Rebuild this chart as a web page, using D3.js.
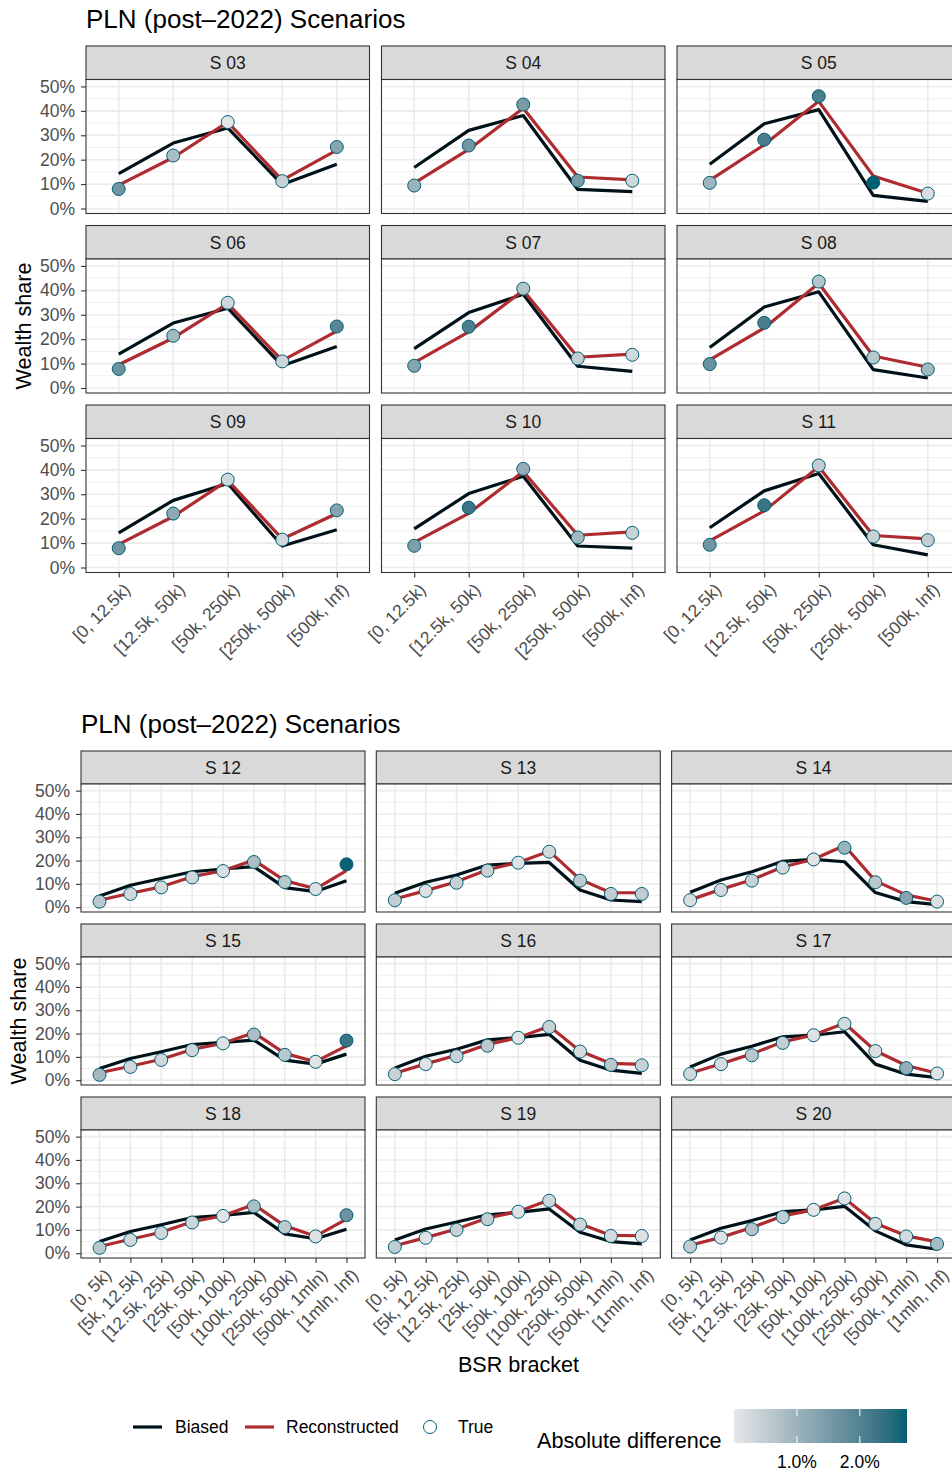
<!DOCTYPE html>
<html>
<head>
<meta charset="utf-8">
<script src="https://cdn.jsdelivr.net/npm/d3@7"></script>
<style>
    body { margin: 0; background: #fff; }
    svg { display: block; font-family: "Liberation Sans", Arial, sans-serif; }
</style>
</head>
<body>
<svg id="chart" width="952" height="1473"></svg>
<script>
// brackets and scenarios
var bracketsTop = ["[0, 12.5k)", "[12.5k, 50k)", "[50k, 250k)", "[250k, 500k)", "[500k, Inf)"];
var bracketsBottom = ["[0, 5k)", "[5k, 12.5k)", "[12.5k, 25k)", "[25k, 50k)", "[50k, 100k)",
    "[100k, 250k)", "[250k, 500k)", "[500k, 1mln)", "[1mln, Inf)"];
var scenariosTop = ["S 03", "S 04", "S 05", "S 06", "S 07", "S 08", "S 09", "S 10", "S 11"];
var scenariosBottom = ["S 12", "S 13", "S 14", "S 15", "S 16", "S 17", "S 18", "S 19", "S 20"];

// wealth shares, in percent
var biasedTop = [
    [14.3, 26.8, 33.0, 9.8, 18.1],
    [16.8, 32.0, 38.1, 7.8, 6.9],
    [18.1, 34.7, 40.5, 5.4, 2.9],
    [13.9, 26.6, 32.7, 9.1, 17.0],
    [16.1, 30.9, 38.4, 8.9, 6.8],
    [16.6, 33.2, 39.4, 7.5, 4.1],
    [14.2, 27.5, 34.4, 8.8, 15.5],
    [15.8, 30.3, 37.4, 8.8, 7.9],
    [16.3, 31.4, 38.5, 9.3, 5.2]
];
var reconTop = [
    [9.6, 20.9, 35.35, 11.6, 23.9],
    [10.4, 24.2, 41.1, 12.9, 11.7],
    [11.5, 26.1, 43.9, 13.35, 6.25],
    [9.5, 20.5, 34.6, 11.25, 23.3],
    [10.4, 23.0, 40.0, 12.6, 13.9],
    [11.5, 24.6, 42.9, 13.1, 8.5],
    [9.5, 20.9, 35.7, 11.7, 22.1],
    [10.3, 22.2, 39.3, 13.2, 14.6],
    [10.9, 23.2, 41.3, 13.1, 11.7]
];
var trueTop = [
    [8.0, 21.7, 35.4, 11.2, 25.2],
    [9.4, 25.8, 42.6, 11.4, 11.4],
    [10.5, 28.2, 46.0, 10.6, 6.1],
    [7.8, 21.4, 34.9, 10.9, 25.2],
    [9.1, 25.1, 40.7, 12.1, 13.6],
    [9.8, 26.7, 43.6, 12.5, 7.6],
    [7.9, 22.1, 36.0, 11.4, 23.4],
    [8.9, 24.5, 40.4, 12.3, 14.2],
    [9.3, 25.5, 41.8, 12.7, 11.2]
];

var biasedBottom = [
    [4.8, 9.4, 12.3, 15.2, 16.4, 17.4, 8.4, 6.7, 11.4],
    [6.0, 10.7, 13.8, 18.1, 18.8, 19.2, 7.4, 3.1, 2.4],
    [6.4, 11.7, 15.2, 19.7, 20.5, 19.5, 6.3, 2.4, 1.1],
    [5.0, 9.3, 12.2, 15.3, 16.2, 17.2, 8.6, 6.9, 11.2],
    [5.2, 10.3, 13.3, 17.3, 18.3, 19.7, 8.6, 4.3, 2.9],
    [5.7, 11.2, 14.6, 18.6, 19.3, 20.8, 6.9, 2.6, 1.1],
    [5.0, 9.3, 12.2, 15.3, 16.2, 17.5, 8.3, 6.2, 10.3],
    [5.7, 10.4, 13.4, 16.5, 17.5, 19.0, 9.0, 5.0, 4.0],
    [5.7, 10.7, 14.0, 17.8, 18.6, 20.1, 9.6, 3.6, 1.7]
];
var reconBottom = [
    [3.0, 6.0, 8.75, 13.1, 15.65, 20.2, 11.4, 7.9, 15.7],
    [3.5, 7.1, 10.9, 16.1, 19.2, 24.05, 11.95, 6.2, 6.2],
    [3.15, 7.65, 11.8, 17.25, 20.55, 26.5, 11.3, 5.3, 2.55],
    [3.2, 6.0, 9.0, 13.2, 15.9, 20.4, 11.5, 7.95, 14.7],
    [3.0, 7.0, 10.7, 15.35, 18.25, 23.2, 12.5, 7.2, 6.8],
    [3.0, 7.1, 11.3, 16.45, 19.4, 24.45, 12.65, 6.3, 3.0],
    [2.9, 6.0, 9.0, 13.5, 16.05, 20.9, 11.75, 7.3, 14.6],
    [3.2, 6.7, 10.4, 15.1, 17.9, 22.8, 12.65, 7.65, 7.5],
    [3.4, 6.8, 11.0, 16.0, 18.6, 23.6, 12.85, 7.45, 4.85]
];
var trueBottom = [
    [2.4, 5.7, 8.5, 12.8, 15.5, 19.4, 10.8, 7.8, 18.4],
    [3.0, 7.0, 10.5, 15.7, 19.1, 23.8, 11.4, 5.7, 5.7],
    [3.0, 7.4, 11.4, 17.0, 20.5, 25.5, 10.7, 4.0, 2.4],
    [2.3, 5.7, 8.7, 12.9, 15.8, 19.6, 10.9, 7.9, 17.0],
    [2.6, 6.9, 10.3, 14.8, 18.2, 22.8, 12.3, 6.6, 6.4],
    [2.7, 6.9, 10.7, 16.0, 19.3, 24.2, 12.5, 5.2, 2.9],
    [2.3, 5.7, 8.7, 13.2, 16.0, 20.1, 11.2, 7.2, 16.3],
    [2.7, 6.6, 10.0, 14.6, 17.8, 22.5, 12.3, 7.4, 7.4],
    [2.9, 6.7, 10.3, 15.5, 18.6, 23.5, 12.6, 7.2, 4.0]
];

var yTicks = [0, 10, 20, 30, 40, 50];
var yMinor = [5, 15, 25, 35, 45];
var legendTicks = [1, 2];
var seriesNames = ["Biased", "Reconstructed", "True"];

var colBiased = "#001219", colRecon = "#AE2B2F", colTrue = "#005F73";
var axisCol = "#4D4D4D", borderCol = "#333333";

var svg = d3.select("#chart");

// absolute difference true vs reconstructed, shared color scale
var allDiffs = [];
trueTop.forEach(function(row, i){ row.forEach(function(v, j){ allDiffs.push(Math.abs(v - reconTop[i][j])); }); });
trueBottom.forEach(function(row, i){ row.forEach(function(v, j){ allDiffs.push(Math.abs(v - reconBottom[i][j])); }); });
var diffExtent = d3.extent(allDiffs);
var color = d3.scaleLinear().domain(diffExtent).range(["#E6E7E8", colTrue]).interpolate(d3.interpolateLab);

function drawFigure(cfg){
    var fig = svg.append("g");
    fig.append("text")
        .attr("x", cfg.left).attr("y", cfg.titleY)
        .style("font-size", "26px").style("fill", "#000")
        .text("PLN (post\u20132022) Scenarios");

    var y = d3.scaleLinear().domain([-0.0205, 0.5285]).range([cfg.plotH, 0]);
    var x = d3.scalePoint().domain(cfg.brackets).range([0, cfg.panelW]).padding(0.6);
    var line = d3.line()
        .x(function(d, i){ return x(cfg.brackets[i]); })
        .y(function(d){ return y(d / 100); });

    cfg.scenarios.forEach(function(name, k){
        var col = k % 3, row = Math.floor(k / 3);
        var px = cfg.left + col * cfg.colStep;
        var py = cfg.top + row * cfg.rowStep;
        var g = fig.append("g").attr("transform", "translate(" + px + "," + py + ")");

        // strip
        g.append("rect")
            .attr("x", 0).attr("y", 0).attr("width", cfg.panelW).attr("height", cfg.stripH)
            .style("fill", "#D9D9D9").style("stroke", borderCol).style("stroke-width", 1.1);
        g.append("text")
            .attr("x", cfg.panelW / 2).attr("y", cfg.stripH / 2).attr("dy", "0.36em")
            .attr("text-anchor", "middle")
            .style("font-size", "17.5px").style("fill", "#1A1A1A")
            .text(name);

        var p = g.append("g").attr("transform", "translate(0," + cfg.stripH + ")");
        p.append("rect")
            .attr("width", cfg.panelW).attr("height", cfg.plotH)
            .style("fill", "#fff");

        // grid
        p.selectAll(".minor").data(yMinor).enter().append("line")
            .attr("x1", 0).attr("x2", cfg.panelW)
            .attr("y1", function(d){ return y(d / 100); }).attr("y2", function(d){ return y(d / 100); })
            .style("stroke", "#EBEBEB").style("stroke-width", 0.8);
        p.selectAll(".major").data(yTicks).enter().append("line")
            .attr("x1", 0).attr("x2", cfg.panelW)
            .attr("y1", function(d){ return y(d / 100); }).attr("y2", function(d){ return y(d / 100); })
            .style("stroke", "#EBEBEB").style("stroke-width", 1.6);
        p.selectAll(".vgrid").data(cfg.brackets).enter().append("line")
            .attr("x1", function(d){ return x(d); }).attr("x2", function(d){ return x(d); })
            .attr("y1", 0).attr("y2", cfg.plotH)
            .style("stroke", "#EBEBEB").style("stroke-width", 1.6);

        p.append("path")
            .attr("d", line(cfg.biased[k]))
            .style("fill", "none").style("stroke", colBiased).style("stroke-width", 3.2)
            .style("stroke-linejoin", "round");
        p.append("path")
            .attr("d", line(cfg.recon[k]))
            .style("fill", "none").style("stroke", colRecon).style("stroke-width", 3.2)
            .style("stroke-linejoin", "round");

        var trueRow = cfg.truth[k];
        p.selectAll(".pt").data(trueRow).enter().append("circle")
            .attr("cx", function(d, i){ return x(cfg.brackets[i]); })
            .attr("cy", function(d){ return y(d / 100); })
            .attr("r", 6.5)
            .style("fill", function(d, i){ return color(Math.abs(d - cfg.recon[k][i])); })
            .style("stroke", colTrue).style("stroke-width", 1);

        p.append("rect")
            .attr("width", cfg.panelW).attr("height", cfg.plotH)
            .style("fill", "none").style("stroke", borderCol).style("stroke-width", 1.1);

        if(col === 0){
            var ya = p.append("g").call(
                d3.axisLeft(y).tickValues(yTicks.map(function(d){ return d / 100; }))
                    .tickFormat(function(d){ return Math.round(d * 100) + "%"; })
                    .tickSize(5).tickPadding(6));
            ya.select(".domain").remove();
            ya.selectAll("line").style("stroke", borderCol).style("stroke-width", 1.1);
            ya.selectAll("text").style("font-size", "17.5px").style("fill", axisCol)
                .style("font-family", "\"Liberation Sans\", Arial, sans-serif");
        }
        if(row === 2){
            var xa = p.append("g").attr("transform", "translate(0," + cfg.plotH + ")")
                .call(d3.axisBottom(x).tickSize(5).tickPadding(4));
            xa.select(".domain").remove();
            xa.selectAll("line").style("stroke", borderCol).style("stroke-width", 1.1);
            xa.selectAll("text")
                .attr("x", 0).attr("y", 0).attr("dy", "0.75em")
                .attr("transform", "translate(3,9) rotate(-45)")
                .attr("text-anchor", "end")
                .style("font-size", "17.5px").style("fill", axisCol)
                .style("font-family", "\"Liberation Sans\", Arial, sans-serif");
        }
    });

    fig.append("text")
        .attr("transform", "translate(" + cfg.yTitleX + "," + cfg.yTitleY + ") rotate(-90)")
        .attr("text-anchor", "middle")
        .style("font-size", "21.6px").style("fill", "#000")
        .text("Wealth share");
}

drawFigure({
    brackets: bracketsTop, scenarios: scenariosTop,
    biased: biasedTop, recon: reconTop, truth: trueTop,
    left: 86, top: 46, titleY: 28,
    panelW: 283.5, colStep: 295.5, rowStep: 179.5, stripH: 33.5, plotH: 134,
    yTitleX: 31, yTitleY: 326
});

drawFigure({
    brackets: bracketsBottom, scenarios: scenariosBottom,
    biased: biasedBottom, recon: reconBottom, truth: trueBottom,
    left: 81, top: 751, titleY: 733,
    panelW: 284, colStep: 295.3, rowStep: 173, stripH: 33, plotH: 128,
    yTitleX: 25.5, yTitleY: 1021
});

svg.append("text")
    .attr("x", 518.5).attr("y", 1372)
    .attr("text-anchor", "middle")
    .style("font-size", "21.6px").style("fill", "#000")
    .text("BSR bracket");

// legend: series
var leg = svg.append("g");
var legX = [133, 245, 423];
var legText = [175, 286, 458];
var legCol = [colBiased, colRecon];
seriesNames.forEach(function(s, i){
    if(i < 2){
        leg.append("line")
            .attr("x1", legX[i]).attr("x2", legX[i] + 29).attr("y1", 1427).attr("y2", 1427)
            .style("stroke", legCol[i]).style("stroke-width", 3.2);
    } else {
        leg.append("circle")
            .attr("cx", 430).attr("cy", 1427).attr("r", 6.5)
            .style("fill", "#fff").style("stroke", colTrue).style("stroke-width", 1);
    }
    leg.append("text")
        .attr("x", legText[i]).attr("y", 1427).attr("dy", "0.36em")
        .style("font-size", "17.5px").style("fill", "#000")
        .text(s);
});

// legend: colorbar
leg.append("text")
    .attr("x", 537).attr("y", 1448)
    .style("font-size", "21.6px").style("fill", "#000")
    .text("Absolute difference");

var barX0 = 734, barX1 = 907, barY = 1409, barH = 34;
var defs = svg.append("defs");
var grad = defs.append("linearGradient").attr("id", "diffGrad");
d3.range(0, 1.0001, 0.1).forEach(function(t){
    grad.append("stop")
        .attr("offset", (t * 100) + "%")
        .attr("stop-color", color(diffExtent[0] + t * (diffExtent[1] - diffExtent[0])));
});
leg.append("rect")
    .attr("x", barX0).attr("y", barY).attr("width", barX1 - barX0).attr("height", barH)
    .style("fill", "url(#diffGrad)");
var bx = d3.scaleLinear().domain(diffExtent).range([barX0, barX1]);
legendTicks.forEach(function(t){
    var xx = bx(t);
    leg.append("line").attr("x1", xx).attr("x2", xx).attr("y1", barY).attr("y2", barY + 7)
        .style("stroke", "#fff").style("stroke-width", 1);
    leg.append("line").attr("x1", xx).attr("x2", xx).attr("y1", barY + barH - 7).attr("y2", barY + barH)
        .style("stroke", "#fff").style("stroke-width", 1);
    leg.append("text")
        .attr("x", xx).attr("y", 1468)
        .attr("text-anchor", "middle")
        .style("font-size", "17.5px").style("fill", "#000")
        .text(t.toFixed(1) + "%");
});
</script>
</body>
</html>
